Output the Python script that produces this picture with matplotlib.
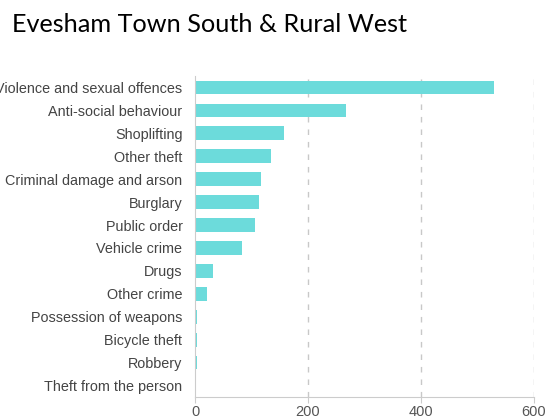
import matplotlib
matplotlib.use("Agg")
import matplotlib.pyplot as plt

categories = ["Violence and sexual offences", "Anti-social behaviour", "Shoplifting",
              "Other theft", "Criminal damage and arson", "Burglary", "Public order",
              "Vehicle crime", "Drugs", "Other crime", "Possession of weapons",
              "Bicycle theft", "Robbery", "Theft from the person"]
values = [530, 268, 158, 135, 116, 113, 107, 84, 31, 21, 4, 4, 3, 1]
xticks = [0, 200, 400, 600]
title = "Evesham Town South & Rural West"

W, H = 548, 419
fig = plt.figure(figsize=(W / 100, H / 100), dpi=100)
ax = fig.add_axes([195 / W, 1 - 397 / H, (534 - 195) / W, (397 - 76) / H])

ypos = list(range(len(categories)))
ax.barh(ypos, values, height=0.6, color="#6cdbdb", zorder=3)
ax.set_ylim(len(categories) - 0.5, -0.5)
ax.set_xlim(0, 600)

ax.set_yticks(ypos)
ax.set_yticklabels(categories, family="Liberation Sans", fontsize=10.4, color="#444444")
ax.set_xticks(xticks)
ax.set_xticklabels([str(t) for t in xticks], family="Liberation Sans", fontsize=10.5, color="#555555")
ax.tick_params(axis="y", length=0, pad=9)
ax.tick_params(axis="x", length=4, color="#cccccc", pad=2)

for s in ["top", "right"]:
    ax.spines[s].set_visible(False)
ax.spines["left"].set_color("#cccccc")
ax.spines["bottom"].set_color("#cccccc")
ax.spines["left"].set_zorder(4)

for t in xticks[1:]:
    ax.axvline(t, color="#c8c8c8", linestyle=(0, (4, 5)), linewidth=1, zorder=1)

fig.text(12 / W, 1 - 24 / H, title, family="Lato", fontsize=18.2, color="black", va="center", ha="left")

fig.savefig("out.png", dpi=100)
